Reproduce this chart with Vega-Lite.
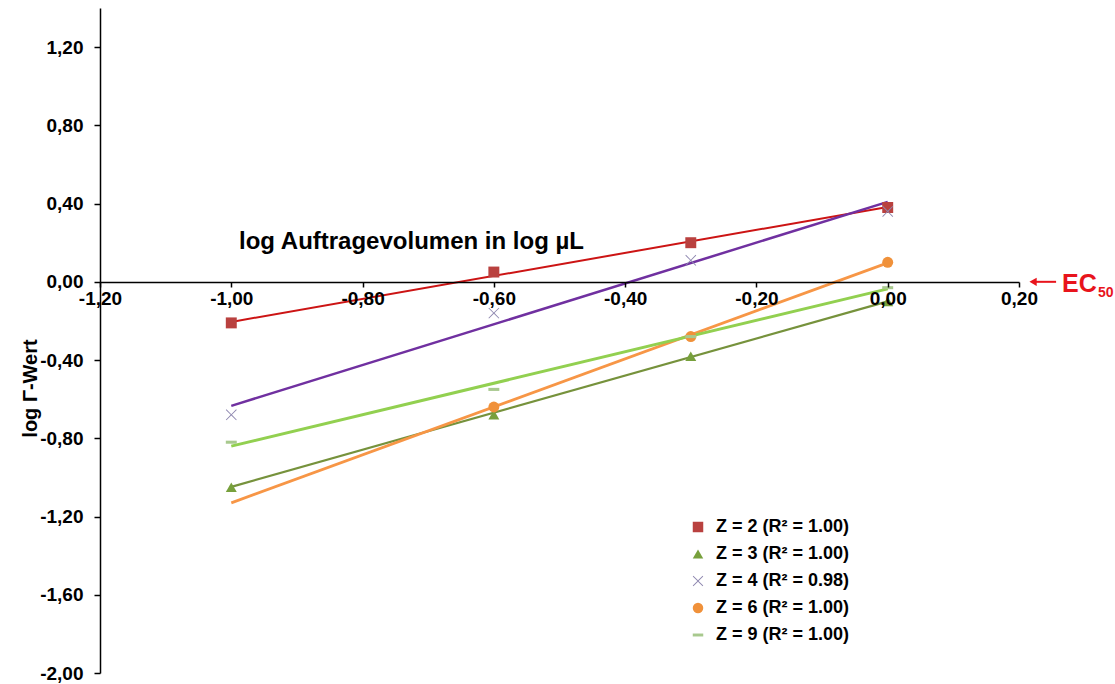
{
  "$schema": "https://vega.github.io/schema/vega-lite/v6.json",
  "autosize": {"type": "none"},
  "width": 919,
  "height": 665,
  "padding": {"left": 100, "top": 8, "right": 96, "bottom": 11},
  "background": "white",
  "config": {
    "view": {"stroke": null},
    "font": "Liberation Sans"
  },
  "datasets": {
    "pts": [
      {"series": "Z = 2 (R² = 1.00)", "x": -1.0, "y": -0.21},
      {"series": "Z = 2 (R² = 1.00)", "x": -0.6, "y": 0.05},
      {"series": "Z = 2 (R² = 1.00)", "x": -0.3, "y": 0.20},
      {"series": "Z = 2 (R² = 1.00)", "x": 0.0, "y": 0.38},
      {"series": "Z = 3 (R² = 1.00)", "x": -1.0, "y": -1.05},
      {"series": "Z = 3 (R² = 1.00)", "x": -0.6, "y": -0.68},
      {"series": "Z = 3 (R² = 1.00)", "x": -0.3, "y": -0.38},
      {"series": "Z = 3 (R² = 1.00)", "x": 0.0, "y": -0.10},
      {"series": "Z = 4 (R² = 0.98)", "x": -1.0, "y": -0.68},
      {"series": "Z = 4 (R² = 0.98)", "x": -0.6, "y": -0.16},
      {"series": "Z = 4 (R² = 0.98)", "x": -0.3, "y": 0.11},
      {"series": "Z = 4 (R² = 0.98)", "x": 0.0, "y": 0.36},
      {"series": "Z = 6 (R² = 1.00)", "x": -0.6, "y": -0.64},
      {"series": "Z = 6 (R² = 1.00)", "x": -0.3, "y": -0.28},
      {"series": "Z = 6 (R² = 1.00)", "x": 0.0, "y": 0.10},
      {"series": "Z = 9 (R² = 1.00)", "x": -1.0, "y": -0.82},
      {"series": "Z = 9 (R² = 1.00)", "x": -0.6, "y": -0.55},
      {"series": "Z = 9 (R² = 1.00)", "x": -0.3, "y": -0.28},
      {"series": "Z = 9 (R² = 1.00)", "x": 0.0, "y": -0.03}
    ],
    "trend": [
      {"series": "Z = 2 (R² = 1.00)", "x": -1.0, "y": -0.205},
      {"series": "Z = 2 (R² = 1.00)", "x": 0.0, "y": 0.383},
      {"series": "Z = 3 (R² = 1.00)", "x": -1.0, "y": -1.048},
      {"series": "Z = 3 (R² = 1.00)", "x": 0.0, "y": -0.10},
      {"series": "Z = 4 (R² = 0.98)", "x": -1.0, "y": -0.634},
      {"series": "Z = 4 (R² = 0.98)", "x": 0.0, "y": 0.409},
      {"series": "Z = 6 (R² = 1.00)", "x": -1.0, "y": -1.13},
      {"series": "Z = 6 (R² = 1.00)", "x": 0.0, "y": 0.097},
      {"series": "Z = 9 (R² = 1.00)", "x": -1.0, "y": -0.84},
      {"series": "Z = 9 (R² = 1.00)", "x": 0.0, "y": -0.036}
    ],
    "ann": [
      {"x": 0.2214, "x2": 0.2565, "y": 0, "main": "EC", "xm": 0.2656, "ym": -0.01, "sub": "50", "xs": 0.3204, "ys": -0.056}
    ]
  },
  "layer": [
    {
      "data": {"name": "trend"},
      "mark": {"type": "line", "clip": false},
      "encoding": {
        "x": {
          "field": "x", "type": "quantitative",
          "scale": {"domain": [-1.2, 0.2], "nice": false, "zero": false},
          "axis": {
            "values": [-1.2, -1.0, -0.8, -0.6, -0.4, -0.2, 0.0, 0.2],
            "labelExpr": "(datum.value < -0.0001 ? '-' : '') + replace(format(abs(datum.value), '.2f'), '.', ',')",
            "orient": "bottom",
            "offset": -391,
            "zindex": 1,
            "grid": false,
            "domainColor": "#000000",
            "domainWidth": 1.5,
            "tickColor": "#000000",
            "tickWidth": 1.5,
            "tickSize": 5,
            "labelFont": "Liberation Sans",
            "labelFontSize": 19,
            "labelFontWeight": "bold",
            "labelColor": "#000000",
            "labelPadding": 2,
            "labelFlush": false,
            "labelOverlap": false,
            "title": "log Auftragevolumen  in log µL",
            "titleFont": "Liberation Sans",
            "titleFontSize": 24,
            "titleFontWeight": "bold",
            "titleColor": "#000000",
            "titleX": 311,
            "titleY": -41,
            "titleAlign": "center",
            "titleBaseline": "middle"
          }
        },
        "y": {
          "field": "y", "type": "quantitative",
          "scale": {"domain": [-2.0, 1.4], "nice": false, "zero": false},
          "axis": {
            "values": [-2.0, -1.6, -1.2, -0.8, -0.4, 0.0, 0.4, 0.8, 1.2],
            "labelExpr": "(datum.value < -0.0001 ? '-' : '') + replace(format(abs(datum.value), '.2f'), '.', ',')",
            "grid": false,
            "domainColor": "#000000",
            "domainWidth": 1.5,
            "tickColor": "#000000",
            "tickWidth": 1.5,
            "tickSize": 6,
            "labelFont": "Liberation Sans",
            "labelFontSize": 19,
            "labelFontWeight": "bold",
            "labelColor": "#000000",
            "labelPadding": 11,
            "labelOverlap": false,
            "labelFlush": false,
            "title": "log Γ-Wert",
            "titleFont": "Liberation Sans",
            "titleFontSize": 20,
            "titleFontWeight": "bold",
            "titleColor": "#000000",
            "titleX": -70,
            "titleY": 380,
            "titleAlign": "center",
            "titleBaseline": "middle",
            "titleAngle": -90
          }
        },
        "detail": {"field": "series"},
        "stroke": {
          "field": "series", "type": "nominal", "legend": null,
          "scale": {"range": ["#cc1414", "#76923c", "#7030a0", "#f79646", "#92d050"]}
        },
        "strokeWidth": {
          "field": "series", "type": "nominal", "legend": null,
          "scale": {"range": [2, 3, 2, 2, 2]}
        }
      }
    },
    {
      "data": {"name": "pts"},
      "mark": {"type": "point", "filled": true, "opacity": 1, "clip": false},
      "encoding": {
        "x": {"field": "x", "type": "quantitative"},
        "y": {"field": "y", "type": "quantitative"},
        "fill": {
          "field": "series", "type": "nominal",
          "scale": {
            "domain": ["Z = 2 (R² = 1.00)", "Z = 3 (R² = 1.00)", "Z = 4 (R² = 0.98)", "Z = 6 (R² = 1.00)", "Z = 9 (R² = 1.00)"],
            "range": ["#b9413f", "#77a03c", "#8f88b0", "#f0913a", "#a8c98e"]
          },
          "legend": {
            "title": null,
            "orient": "none",
            "legendX": 589,
            "legendY": 510,
            "labelFont": "Liberation Sans",
            "labelFontSize": 18,
            "labelFontWeight": "bold",
            "labelColor": "#000000",
            "labelOffset": 9,
            "rowPadding": 9,
            "symbolSize": 110,
            "symbolStrokeWidth": 0,
            "padding": 0,
            "labelLimit": 300
          }
        },
        "shape": {
          "field": "series", "type": "nominal",
          "scale": {
            "domain": ["Z = 2 (R² = 1.00)", "Z = 3 (R² = 1.00)", "Z = 4 (R² = 0.98)", "Z = 6 (R² = 1.00)", "Z = 9 (R² = 1.00)"],
            "range": ["square", "triangle-up", "M-1,-0.88L-0.88,-1L0,-0.12L0.88,-1L1,-0.88L0.12,0L1,0.88L0.88,1L0,0.12L-0.88,1L-1,0.88L-0.12,0Z", "circle", "M-1,-0.28H1V0.28H-1Z"]
          }
        },
        "size": {"value": 120}
      }
    },
    {
      "data": {"name": "ann"},
      "mark": {"type": "rule", "color": "#e8141c", "strokeWidth": 2},
      "encoding": {
        "x": {"field": "x", "type": "quantitative"},
        "x2": {"field": "x2"},
        "y": {"field": "y", "type": "quantitative"}
      }
    },
    {
      "data": {"name": "ann"},
      "mark": {"type": "point", "shape": "triangle-left", "filled": true, "color": "#e8141c", "size": 70, "opacity": 1},
      "encoding": {
        "x": {"field": "x", "type": "quantitative"},
        "y": {"field": "y", "type": "quantitative"}
      }
    },
    {
      "data": {"name": "ann"},
      "mark": {"type": "text", "color": "#e8141c", "font": "Liberation Sans", "fontSize": 25, "fontWeight": "bold", "align": "left", "baseline": "middle"},
      "encoding": {
        "x": {"field": "xm", "type": "quantitative"},
        "y": {"field": "ym", "type": "quantitative"},
        "text": {"field": "main"}
      }
    },
    {
      "data": {"name": "ann"},
      "mark": {"type": "text", "color": "#e8141c", "font": "Liberation Sans", "fontSize": 14, "fontWeight": "bold", "align": "left", "baseline": "middle"},
      "encoding": {
        "x": {"field": "xs", "type": "quantitative"},
        "y": {"field": "ys", "type": "quantitative"},
        "text": {"field": "sub"}
      }
    }
  ]
}
